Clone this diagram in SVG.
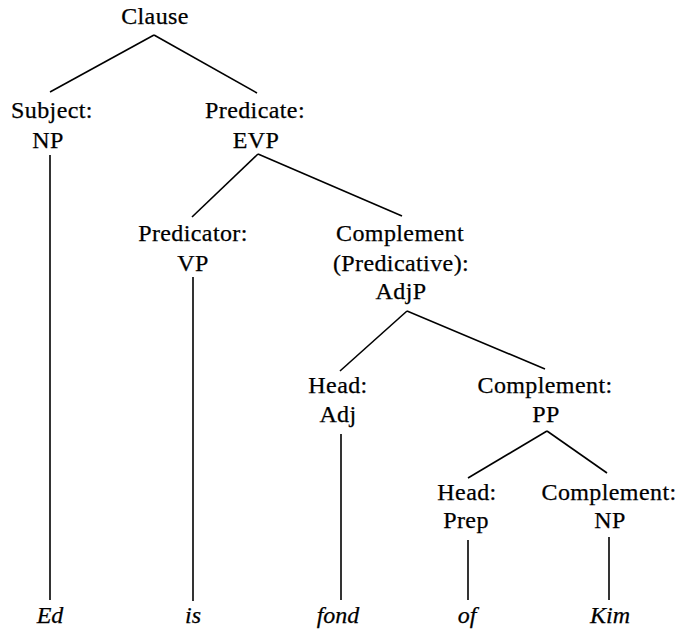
<svg xmlns="http://www.w3.org/2000/svg" width="682" height="633" viewBox="0 0 682 633">
  <style>
    .lbl { font-family: "Liberation Serif", "DejaVu Serif", serif; font-size: 24px; fill: #000; stroke: #000; stroke-width: 0.25; text-anchor: middle; letter-spacing: 0.4px; }
    .leaf { font-style: italic; letter-spacing: 0; }
    .edge { stroke: #000; stroke-width: 1.6; fill: none; stroke-linecap: butt; }
  </style>
  <rect width="682" height="633" fill="#ffffff"/>

  <g id="connectors">
    <line class="edge" x1="154" y1="35" x2="50" y2="92"/>
    <line class="edge" x1="154" y1="35" x2="257" y2="93"/>
    <line class="edge" x1="50" y1="155" x2="50" y2="600"/>
    <line class="edge" x1="258" y1="154" x2="192" y2="217"/>
    <line class="edge" x1="258" y1="154" x2="402" y2="216"/>
    <line class="edge" x1="193" y1="277" x2="193" y2="601"/>
    <line class="edge" x1="407" y1="311" x2="340" y2="371"/>
    <line class="edge" x1="407" y1="311" x2="545" y2="369"/>
    <line class="edge" x1="341" y1="434" x2="341" y2="600"/>
    <line class="edge" x1="547" y1="431" x2="468" y2="478"/>
    <line class="edge" x1="547" y1="431" x2="607" y2="473"/>
    <line class="edge" x1="468" y1="540" x2="468" y2="600"/>
    <line class="edge" x1="609" y1="537" x2="609" y2="600"/>
  </g>

  <g id="clause">
    <text class="lbl" x="155" y="24">Clause</text>
  </g>
  <g id="subject">
    <text class="lbl" x="52" y="118">Subject:</text>
    <text class="lbl" x="48" y="148">NP</text>
  </g>
  <g id="predicate">
    <text class="lbl" x="255" y="118">Predicate:</text>
    <text class="lbl" x="256" y="148">EVP</text>
  </g>
  <g id="predicator">
    <text class="lbl" x="193" y="241">Predicator:</text>
    <text class="lbl" x="193" y="271">VP</text>
  </g>
  <g id="complement-predicative">
    <text class="lbl" x="400" y="241">Complement</text>
    <text class="lbl" x="401" y="271">(Predicative):</text>
    <text class="lbl" x="401" y="299">AdjP</text>
  </g>
  <g id="head-adj">
    <text class="lbl" x="338" y="393">Head:</text>
    <text class="lbl" x="338" y="422">Adj</text>
  </g>
  <g id="complement-pp">
    <text class="lbl" x="545" y="393">Complement:</text>
    <text class="lbl" x="546" y="422">PP</text>
  </g>
  <g id="head-prep">
    <text class="lbl" x="467" y="500">Head:</text>
    <text class="lbl" x="466" y="528">Prep</text>
  </g>
  <g id="complement-np">
    <text class="lbl" x="609" y="500">Complement:</text>
    <text class="lbl" x="610" y="528">NP</text>
  </g>
  <g id="leaf-ed">
    <text class="lbl leaf" x="50" y="623">Ed</text>
  </g>
  <g id="leaf-is">
    <text class="lbl leaf" x="193" y="623">is</text>
  </g>
  <g id="leaf-fond">
    <text class="lbl leaf" x="338" y="623">fond</text>
  </g>
  <g id="leaf-of">
    <text class="lbl leaf" x="467" y="623">of</text>
  </g>
  <g id="leaf-kim">
    <text class="lbl leaf" x="610" y="623">Kim</text>
  </g>
</svg>
